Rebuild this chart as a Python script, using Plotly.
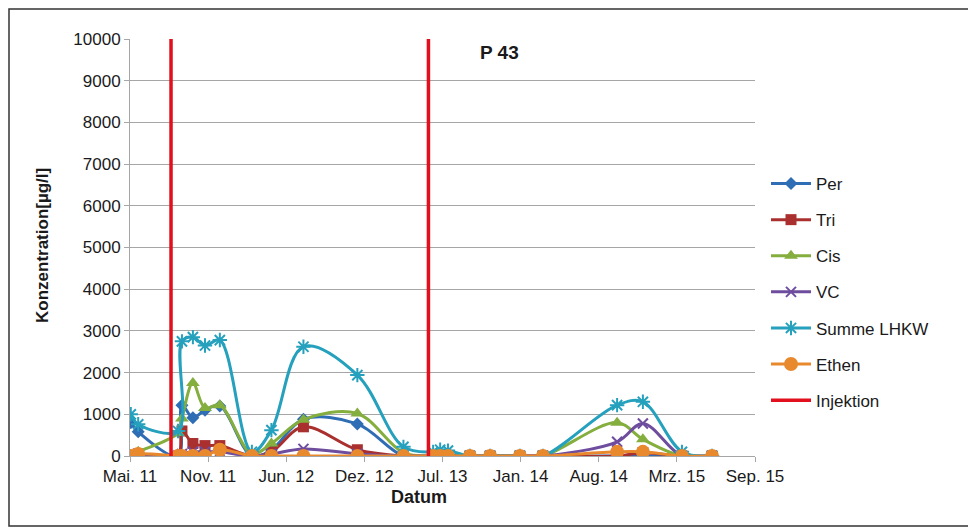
import plotly.graph_objects as go
from datetime import date, timedelta

# ---- data ----
dates = ["2011-05-03", "2011-05-22", "2011-09-01", "2011-09-11", "2011-10-09", "2011-11-09",
         "2011-12-17", "2012-03-08", "2012-04-27", "2012-07-18", "2012-12-03", "2013-03-31",
         "2013-06-15", "2013-07-03", "2013-07-23", "2013-09-17", "2013-11-08", "2014-01-23",
         "2014-03-23", "2014-09-29", "2014-12-04", "2015-03-14", "2015-05-30"]
per   = [800, 580, 0, 1220, 920, 1100, 1200, 0, 150, 880, 770, 0, 0, 0, 0, 0, 0, 0, 0, 0, 0, 0, 0]
tri   = [0, 50, 0, 600, 300, 250, 250, 0, 100, 700, 150, 0, 0, 0, 0, 0, 0, 0, 0, 0, 80, 0, 0]
cis   = [0, 100, 550, 900, 1750, 1150, 1220, 50, 300, 870, 1020, 80, 0, 0, 0, 0, 0, 0, 0, 800, 400, 0, 0]
vc    = [0, 0, 0, 50, 100, 100, 100, 0, 50, 170, 50, 0, 0, 0, 0, 0, 0, 0, 0, 340, 780, 0, 0]
summe = [1000, 760, 600, 2750, 2850, 2650, 2780, 100, 620, 2620, 1940, 220, 100, 150, 130, 0, 0, 0, 0, 1220, 1300, 100, 0]
ethen = [0, 50, 0, 0, 0, 0, 150, 0, 0, 0, 0, 0, 0, 0, 0, 0, 0, 0, 0, 100, 100, 0, 0]
injektion_dates = ["2011-08-14", "2013-06-03"]

x_start = date(2011, 5, 1)
tick_step_days = 200
tick_labels = ["Mai. 11", "Nov. 11", "Jun. 12", "Dez. 12", "Jul. 13", "Jan. 14",
               "Aug. 14", "Mrz. 15", "Sep. 15"]
y_max = 10000

tick_vals = [(x_start + timedelta(days=tick_step_days * i)).isoformat() for i in range(len(tick_labels))]
x_end = tick_vals[-1]

FONT = "Liberation Sans, Arial, sans-serif"

series = [
    ("Per", per, "#2F6DB5", dict(symbol="diamond", size=10)),
    ("Tri", tri, "#A9302E", dict(symbol="square", size=11)),
    ("Cis", cis, "#84AE3E", dict(symbol="triangle-up", size=12)),
    ("VC", vc, "#6E4C9E", dict(symbol="x-thin-open", size=10, line=dict(width=2, color="#6E4C9E"))),
    ("Summe LHKW", summe, "#25A0BD", dict(symbol="asterisk-open", size=12, line=dict(width=2, color="#25A0BD"))),
    ("Ethen", ethen, "#E8892E", dict(symbol="circle", size=14)),
]

fig = go.Figure()
for i, (name, vals, col, mk) in enumerate(series):
    m = dict(color=col)
    m.update(mk)
    fig.add_trace(go.Scatter(
        x=dates, y=vals, name=name, mode="lines+markers",
        line=dict(color=col, width=3, shape="spline", smoothing=1.0),
        marker=m, legendgroup=f"g{i}", cliponaxis=True,
    ))

ix, iy = [], []
for d in injektion_dates:
    ix += [d, d, None]
    iy += [0, y_max, None]
fig.add_trace(go.Scatter(x=ix, y=iy, mode="lines", name="Injektion",
                         line=dict(color="#E2101C", width=3.5), legendgroup="g6"))

# page body has an 8px default margin -> work in screen pixels, convert to figure pixels
OFF = 8
W, H = 976 - OFF, 531 - OFF
L, R, T, B = 130 - OFF, 755 - OFF, 39 - OFF, 456 - OFF
pw, ph = R - L, B - T

def px_x(p):
    return (p - OFF - L) / pw

def px_y(p):
    return (B - (p - OFF)) / ph

fig.update_layout(
    width=W, height=H,
    margin=dict(l=L, r=W - R, t=T, b=H - B, pad=0),
    paper_bgcolor="white", plot_bgcolor="white",
    font=dict(family=FONT, size=17, color="#1a1a1a"),
    showlegend=True,
    legend=dict(x=px_x(766), y=px_y(166), xanchor="left", yanchor="top",
                font=dict(size=17, family=FONT), traceorder="grouped",
                tracegroupgap=11, bgcolor="rgba(0,0,0,0)", itemwidth=40),
    xaxis=dict(type="date", range=[x_start.isoformat(), x_end], tickvals=tick_vals,
               ticktext=tick_labels, showgrid=False, showline=True, linecolor="#A6A6A6",
               linewidth=1, ticks="outside", ticklen=5, tickcolor="#A6A6A6",
               tickfont=dict(size=17, family=FONT), zeroline=False),
    yaxis=dict(range=[0, y_max], dtick=1000, tick0=0, tickformat="d", showgrid=True,
               gridcolor="#A6A6A6", gridwidth=1, showline=True, linecolor="#A6A6A6",
               linewidth=1, ticks="outside", ticklen=5, tickcolor="#A6A6A6",
               tickfont=dict(size=17, family=FONT), zeroline=False),
    annotations=[
        dict(text="<b>P 43</b>", x=px_x(499), y=px_y(52), xref="paper", yref="paper",
             xanchor="center", yanchor="middle", showarrow=False,
             font=dict(size=19, family=FONT, color="#1a1a1a")),
        dict(text="<b>Datum</b>", x=px_x(419), y=px_y(497), xref="paper", yref="paper",
             xanchor="center", yanchor="middle", showarrow=False,
             font=dict(size=18, family=FONT, color="#1a1a1a")),
        dict(text="<b>Konzentration[µg/l]</b>", x=px_x(42), y=px_y(246), xref="paper",
             yref="paper", xanchor="center", yanchor="middle", showarrow=False, textangle=-90,
             font=dict(size=17, family=FONT, color="#1a1a1a")),
    ],
    shapes=[
        dict(type="rect", xref="paper", yref="paper", x0=px_x(9), x1=px_x(969),
             y0=px_y(526), y1=px_y(9), line=dict(color="#333333", width=1.5),
             fillcolor="rgba(0,0,0,0)", layer="below"),
    ],
)

fig.write_html("out.html")
